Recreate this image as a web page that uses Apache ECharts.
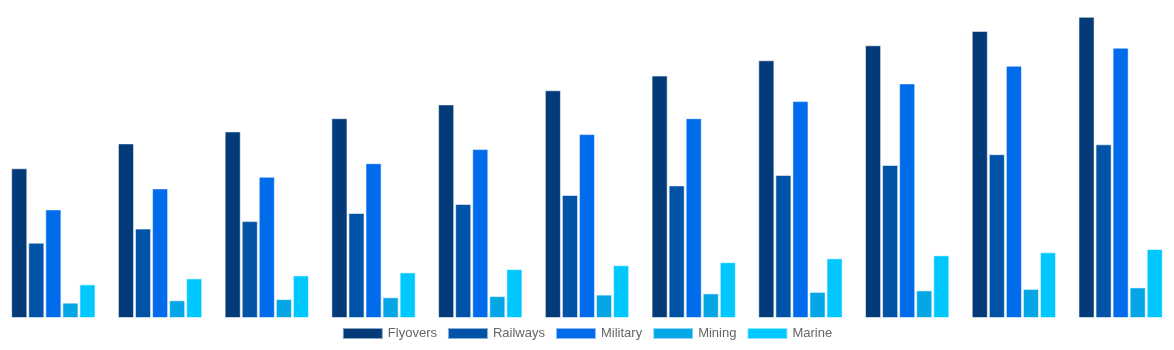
<!DOCTYPE html>
<html>
<head>
<meta charset="utf-8">
<script src="https://cdn.jsdelivr.net/npm/echarts@6/dist/echarts.min.js"></script>
<style>html,body{margin:0;padding:0;background:#fff}#c{width:1174px;height:350px}</style>
</head>
<body>
<div id="c"></div>
<script>
const categories = ['2020','2021','2022','2023','2024','2025','2026','2027','2028','2029','2030'];
const seriesNames = ['Flyovers','Railways','Military','Mining','Marine'];
const flyovers = [4.99, 5.82, 6.22, 6.66, 7.12, 7.59, 8.08, 8.59, 9.09, 9.57, 10.04];
const railways = [2.51, 2.98, 3.23, 3.50, 3.80, 4.10, 4.42, 4.77, 5.10, 5.46, 5.79];
const military = [3.62, 4.32, 4.71, 5.16, 5.63, 6.13, 6.66, 7.23, 7.82, 8.41, 9.01];
const mining   = [0.51, 0.59, 0.63, 0.69, 0.73, 0.78, 0.82, 0.87, 0.92, 0.97, 1.02];
const marine   = [1.12, 1.32, 1.42, 1.52, 1.63, 1.76, 1.86, 1.99, 2.09, 2.19, 2.30];
const colors = ['#023b78', '#0053a6', '#006cec', '#04a6e6', '#00c8ff'];
const values = [flyovers, railways, military, mining, marine];

const chart = echarts.init(document.getElementById('c'));
chart.setOption({
  animation: false,
  color: colors,
  grid: { left: 0, right: 0, top: 0, bottom: 32, containLabel: false },
  legend: {
    data: seriesNames,
    top: 322,
    left: 'center',
    icon: 'rect',
    itemWidth: 40,
    itemHeight: 11,
    itemGap: 10,
    textStyle: { color: '#666', fontSize: 13, fontFamily: '"Liberation Sans", Arial, sans-serif' }
  },
  xAxis: {
    type: 'category',
    data: categories,
    show: false
  },
  yAxis: {
    type: 'value',
    min: 0,
    max: 10.6,
    show: false,
    splitLine: { show: false }
  },
  series: seriesNames.map((name, i) => ({
    name: name,
    type: 'bar',
    data: values[i],
    barGap: '6%',
    barCategoryGap: '21%',
    itemStyle: { color: colors[i], borderColor: 'rgba(255,255,255,0.55)', borderWidth: 1 }
  }))
});
</script>
</body>
</html>
